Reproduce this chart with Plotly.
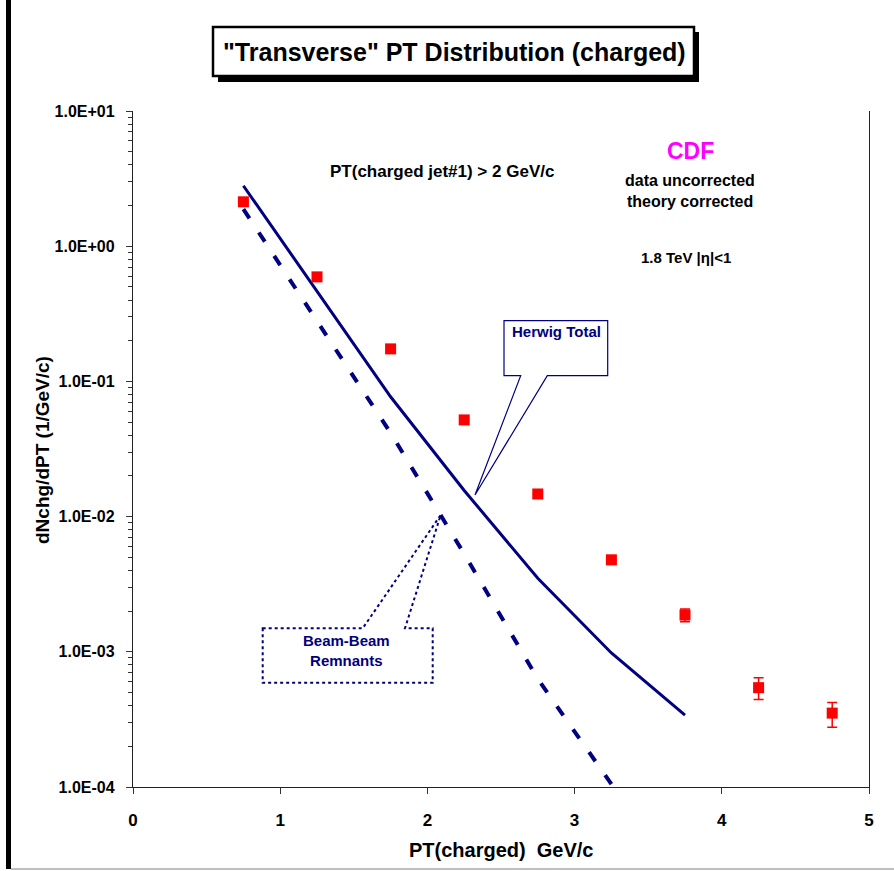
import plotly.graph_objects as go

# ---- data -------------------------------------------------------------
pt_data = [0.75, 1.25, 1.75, 2.25, 2.75, 3.25, 3.75, 4.25, 4.75]
dn_data = [2.13, 0.593, 0.174, 0.0519, 0.0147, 0.00479, 0.00187, 0.000543, 0.000352]
dn_err_up = [0.02, 0.005, 0.0015, 0.0004, 0.0001, 0.00004, 0.0002, 0.0001, 0.00007]
dn_err_dn = [0.02, 0.005, 0.0015, 0.0004, 0.0001, 0.00004, 0.0002, 0.0001, 0.000075]

pt_herwig = [0.75, 1.25, 1.75, 2.25, 2.75, 3.25, 3.75]
dn_herwig_total = [2.8, 0.46, 0.077, 0.0156, 0.0035, 0.00098, 0.00034]

pt_bbr = [0.75, 1.25, 1.75, 2.25, 2.75, 3.25]
dn_beam_remnants = [1.88, 0.28, 0.0416, 0.0053, 0.00063, 0.000105]

y_tick_vals = [1e-4, 1e-3, 1e-2, 1e-1, 1e0, 1e1]
y_tick_text = ["1.0E-04", "1.0E-03", "1.0E-02", "1.0E-01", "1.0E+00", "1.0E+01"]
x_tick_vals = [0, 1, 2, 3, 4, 5]

# ---- styling ----------------------------------------------------------
W, H = 894, 871
L, R, T, B = 133, 25, 111, 84
NAVY = "#000080"
RED = "#FF0000"
FONT = "Liberation Sans"


def px(xp):
    """pixel x -> paper x"""
    return (xp - L) / (W - L - R)


def py(yp):
    """pixel y -> paper y"""
    return (H - B - yp) / (H - T - B)


minor_vals = [m * 10 ** e for e in range(-4, 1) for m in range(2, 10)]

fig = go.Figure()

fig.add_trace(go.Scatter(
    x=pt_herwig, y=dn_herwig_total, mode="lines",
    line=dict(color=NAVY, width=3), showlegend=False, hoverinfo="skip"))

fig.add_trace(go.Scatter(
    x=pt_bbr, y=dn_beam_remnants, mode="lines",
    line=dict(color=NAVY, width=4, dash="11px,17px"),
    showlegend=False, hoverinfo="skip"))

fig.add_trace(go.Scatter(
    x=pt_data, y=dn_data, mode="markers",
    marker=dict(symbol="square", size=11, color=RED),
    error_y=dict(type="data", symmetric=False, array=dn_err_up,
                 arrayminus=dn_err_dn, color=RED, thickness=1.5, width=5),
    showlegend=False, hoverinfo="skip"))

shapes = []

# outer frame pieces
shapes.append(dict(type="line", xref="paper", yref="paper",
                   x0=px(8.5), x1=px(8.5), y0=py(0), y1=py(869),
                   line=dict(color="black", width=5)))
shapes.append(dict(type="line", xref="paper", yref="paper",
                   x0=px(11), x1=px(894), y0=py(869), y1=py(869),
                   line=dict(color="#aaaaaa", width=1.5)))

# title box with drop shadow
shapes.append(dict(type="rect", xref="paper", yref="paper",
                   x0=px(218), x1=px(699), y0=py(32), y1=py(82),
                   fillcolor="black", line=dict(width=0), layer="above"))
shapes.append(dict(type="rect", xref="paper", yref="paper",
                   x0=px(213), x1=px(694), y0=py(27), y1=py(76),
                   fillcolor="white", line=dict(color="black", width=2.5),
                   layer="above"))


def callout_path(pts):
    parts = []
    for i, (xp, yp) in enumerate(pts):
        parts.append(("M" if i == 0 else "L") + f"{px(xp):.5f},{py(yp):.5f}")
    return " ".join(parts) + " Z"


# "Herwig Total" callout
shapes.append(dict(type="path", xref="paper", yref="paper",
                   path=callout_path([(504, 375.7), (520.7, 375.7), (475, 495),
                                      (547.3, 375.7), (607.7, 375.7),
                                      (607.7, 320.7), (504, 320.7)]),
                   line=dict(color=NAVY, width=1.2), layer="above"))

# "Beam-Beam Remnants" callout (dotted)
shapes.append(dict(type="path", xref="paper", yref="paper",
                   path=callout_path([(262.7, 628.3), (362.7, 628.3), (440.7, 515),
                                      (405, 628.3), (432.7, 628.3),
                                      (432.7, 682.7), (262.7, 682.7)]),
                   line=dict(color=NAVY, width=2, dash="dot"), layer="above"))

annotations = []


def text(xp, yp, s, size, color="black", **kw):
    annotations.append(dict(
        xref="paper", yref="paper", x=px(xp), y=py(yp), text=s,
        showarrow=False, xanchor=kw.pop("xanchor", "center"),
        yanchor="middle", font=dict(family=FONT, size=size, color=color),
        **kw))


text(454, 52, '<b>"Transverse" PT Distribution (charged)</b>', 25)
text(442, 171, "<b>PT(charged jet#1) > 2 GeV/c</b>", 17)
text(690, 151, "<b>CDF</b>", 23, color="#FF00FF")
text(690, 180, "<b>data uncorrected</b>", 16)
text(690, 201, "<b>theory corrected</b>", 16)
text(686, 257, "<b>1.8 TeV |η|<1</b>", 15)
text(556, 331, "<b>Herwig Total</b>", 15, color=NAVY)
text(346, 650, "<b>Beam-Beam<br>Remnants</b>", 15, color=NAVY)
text(501, 850, "<b>PT(charged)&nbsp; GeV/c</b>", 20)
text(42, 450, "<b>dNchg/dPT (1/GeV/c)</b>", 19, textangle=-90)

fig.update_layout(
    width=W, height=H, autosize=False,
    margin=dict(l=L, r=R, t=T, b=B, pad=0),
    paper_bgcolor="white", plot_bgcolor="white",
    shapes=shapes, annotations=annotations,
    xaxis=dict(range=[0, 5], tickvals=x_tick_vals, ticks="outside",
               ticklen=6, tickwidth=1, tickcolor="#333333",
               showline=True, linecolor="#222222", linewidth=1.3,
               showgrid=False, zeroline=False, mirror=False,
               tickfont=dict(family=FONT, size=17, color="black", weight="bold"),
               ticklabelstandoff=11),
    xaxis2=dict(range=[0, 5], tickvals=x_tick_vals, ticks="inside",
                ticklen=6, tickwidth=1, tickcolor="#333333",
                overlaying="x", anchor="y", side="bottom",
                showticklabels=False, showgrid=False, zeroline=False,
                showline=False),
    yaxis=dict(type="log", range=[-4, 1], tickvals=y_tick_vals,
               ticktext=y_tick_text, ticks="outside", ticklen=6,
               tickwidth=1, tickcolor="#333333",
               minor=dict(tickvals=minor_vals, ticks="outside", ticklen=4,
                          tickwidth=1, tickcolor="#333333", showgrid=False),
               showline=True, linecolor="#222222", linewidth=1.3,
               mirror=True, showgrid=False, zeroline=False,
               tickfont=dict(family=FONT, size=16, color="black", weight="bold"),
               ticklabelstandoff=8),
)

fig.write_html("out.html")
